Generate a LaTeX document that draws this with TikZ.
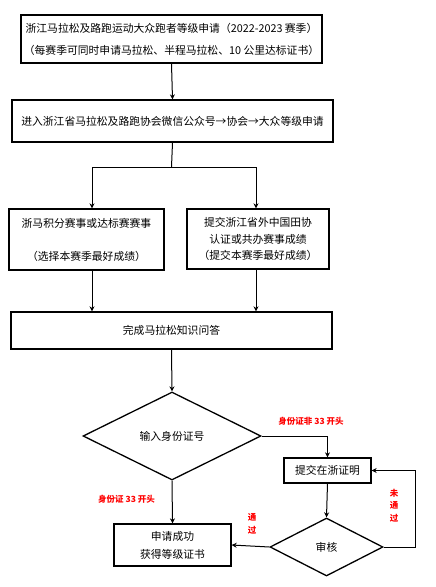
\documentclass[tikz,border=0pt]{standalone}
\usepackage{fontspec}
\setmainfont{Noto Sans CJK SC}
\usepackage{xcolor}
\usepackage{tikz}
\usetikzlibrary{arrows.meta, positioning, shapes.geometric}

\tikzset{
	stepbox/.style={shape=rectangle, draw, line width=1.3pt, align=center, inner sep=2pt, font=\fontsize{10.8}{15}\selectfont},
	checkbox/.style={shape=diamond, draw, line width=1.3pt, inner sep=0pt, font=\fontsize{10.8}{15}\selectfont},
	flow/.style={line width=1pt, -{Stealth[length=5pt, width=5pt]}},
	wire/.style={line width=1pt},
	redlabel/.style={text=red, font=\bfseries\fontsize{8.5}{11}\selectfont, inner sep=0pt}
}

\begin{document}
\begin{tikzpicture}[x=1pt, y=-1pt]
			\useasboundingbox (0, 0) rectangle (436, 587);
			% Boxes and decisions:
			\node[stepbox, minimum width=301pt, minimum height=48pt, font=\fontsize{10.8}{22}\selectfont](apply) at (171.5, 39){浙江马拉松及路跑运动大众跑者等级申请（2022-2023 赛季）\\（每赛季可同时申请马拉松、半程马拉松、10 公里达标证书）};
			\node[stepbox, minimum width=321pt, minimum height=42pt](wechat) at (172.5, 121){进入浙江省马拉松及路跑协会微信公众号→协会→大众等级申请};
			\node[stepbox, minimum width=155pt, minimum height=61pt, font=\fontsize{10.8}{16.5}\selectfont](race) at (86.5, 239.5){浙马积分赛事或达标赛赛事\\ \\（选择本赛季最好成绩）};
			\node[stepbox, minimum width=142pt, minimum height=60pt, font=\fontsize{10.8}{16.5}\selectfont](other) at (258, 239){提交浙江省外中国田协\\认证或共办赛事成绩\\（提交本赛季最好成绩）};
			\node[stepbox, minimum width=321pt, minimum height=37pt](quiz) at (171.5, 330.5){完成马拉松知识问答};
			\node[checkbox, minimum width=178pt, minimum height=88pt](idno) at (172, 436){输入身份证号};
			\node[stepbox, minimum width=87pt, minimum height=25pt](proof) at (327.5, 470.5){提交在浙证明};
			\node[checkbox, minimum width=113pt, minimum height=58pt](review) at (326.5, 547){审核};
			\node[stepbox, minimum width=117pt, minimum height=42pt, font=\fontsize{10.8}{18}\selectfont](done) at (172.5, 545){申请成功\\获得等级证书};
			% Paths and arrows:
			\coordinate (split) at (171.5, 167);
			\coordinate (brL) at (92, 167);
			\coordinate (brR) at (256, 167);
			\coordinate (loop) at (415, 547);
			\draw[flow] (apply.south) -- (wechat.north);
			\draw[wire] (wechat.south) -- (split);
			\draw[wire] (brL) -- (brR);
			\draw[flow] (brL) -- (brL |- race.north);
			\draw[flow] (brR) -- (brR |- other.north);
			\draw[flow] (brL |- race.south) -- (brL |- quiz.north);
			\draw[flow] (brR |- other.south) -- (brR |- quiz.north);
			\draw[flow] (quiz.south) -- (idno.north);
			\draw[flow] (idno.east) -| (proof.north);
			\draw[flow] (idno.south) -- (done.north);
			\draw[flow] (proof.south) -- (review.north);
			\draw[flow] (review.west) -- (done.east);
			\draw[flow] (review.east) -- (loop) |- (proof.east);
			% Labels:
			\node[redlabel](lblno) at (311, 421){身份证非 33 开头};
			\node[redlabel](lblyes) at (126.5, 499){身份证 33 开头};
			\node[redlabel, align=center, font=\bfseries\fontsize{8.5}{13}\selectfont](lblpass) at (252, 523.5){通\\过};
			\node[redlabel, align=center, font=\bfseries\fontsize{8.5}{12.5}\selectfont](lblfail) at (394, 505.5){未\\通\\过};
		\end{tikzpicture}
\end{document}
